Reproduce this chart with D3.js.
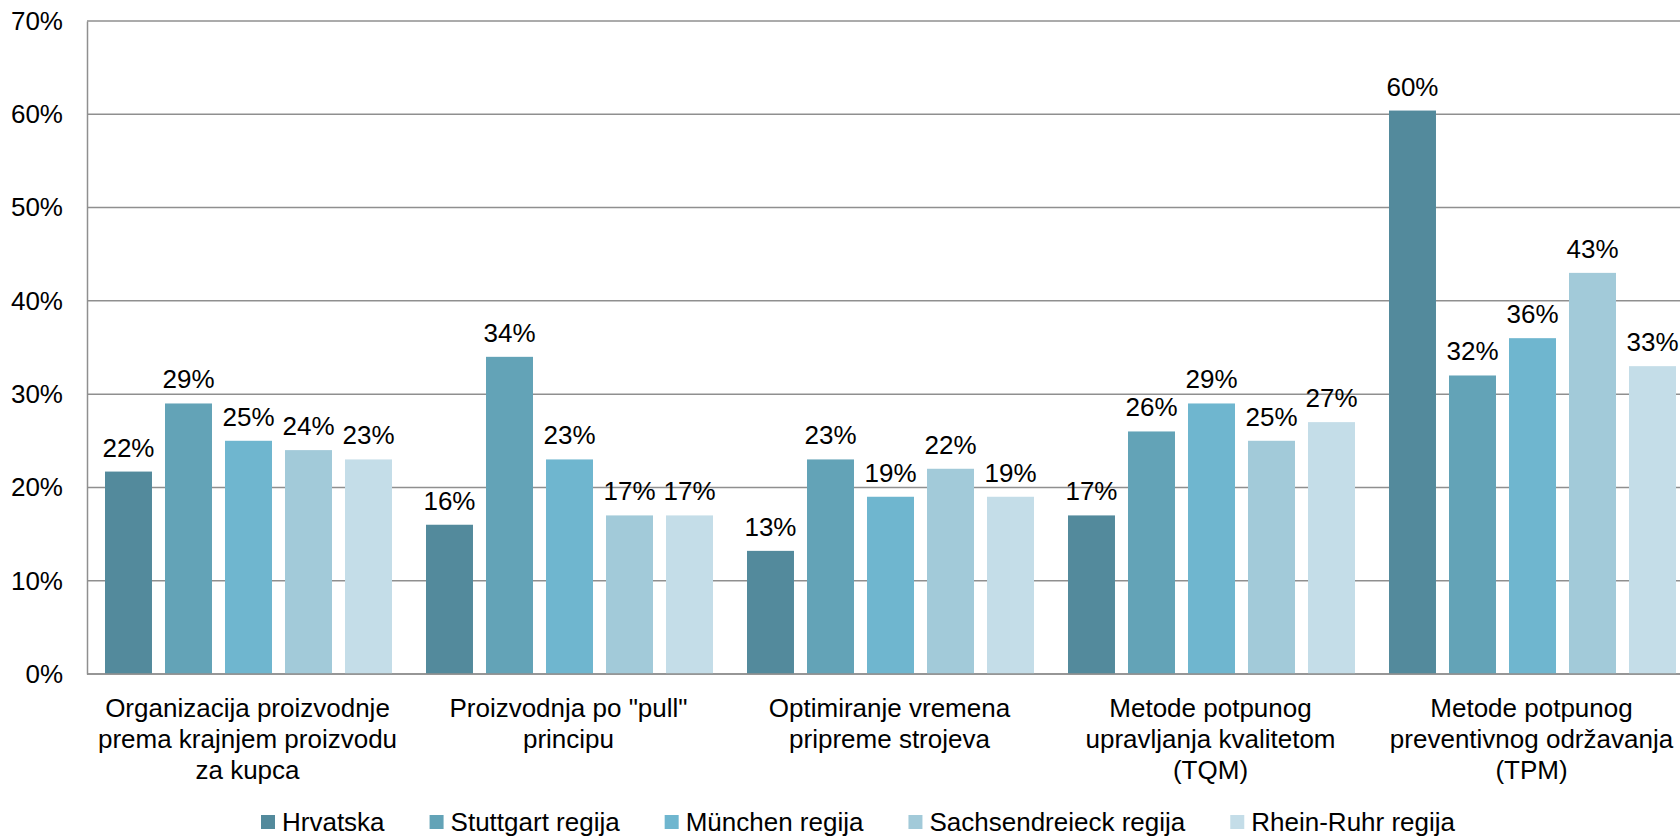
<!DOCTYPE html>
<html>
<head>
<meta charset="utf-8">
<script src="https://cdn.jsdelivr.net/npm/d3@7/dist/d3.min.js"></script>
<style>
  body { margin: 0; background: #fff; }
  text { font-family: "Liberation Sans", Arial, sans-serif; fill: #000; }
</style>
</head>
<body>
<script>
var categories = [
  "Organizacija proizvodnje\nprema krajnjem proizvodu\nza kupca",
  "Proizvodnja po \"pull\"\nprincipu",
  "Optimiranje vremena\npripreme strojeva",
  "Metode potpunog\nupravljanja kvalitetom\n(TQM)",
  "Metode potpunog\npreventivnog održavanja\n(TPM)"
];
var seriesNames = ["Hrvatska", "Stuttgart regija", "München regija", "Sachsendreieck regija", "Rhein-Ruhr regija"];
var hrvatska   = [0.217, 0.16, 0.132, 0.17, 0.604];
var stuttgart  = [0.29, 0.34, 0.23, 0.26, 0.32];
var munchen    = [0.25, 0.23, 0.19, 0.29, 0.36];
var sachsen    = [0.24, 0.17, 0.22, 0.25, 0.43];
var rheinRuhr  = [0.23, 0.17, 0.19, 0.27, 0.33];
var colors = ["#538a9c", "#63a3b7", "#6fb6cf", "#a2cad9", "#c4dde8"];
var yTicks = [0, 0.1, 0.2, 0.3, 0.4, 0.5, 0.6, 0.7];

var allSeries = [hrvatska, stuttgart, munchen, sachsen, rheinRuhr];
var width = 1680;
var height = 836;
var plotLeft = 87, plotTop = 21, plotBottom = 674, groupW = 321;

var svg = d3.select("body").append("svg")
  .attr("width", width)
  .attr("height", height);

var x0 = d3.scaleBand().domain(categories)
  .range([plotLeft, plotLeft + groupW * categories.length]);
var x1 = d3.scaleBand().domain(seriesNames)
  .range([18, groupW - 16]).paddingInner(0.217);
var y = d3.scaleLinear().domain([0, 0.7]).range([plotBottom, plotTop]);

// gridlines
svg.append("g").selectAll("line").data(yTicks).enter().append("line")
  .attr("x1", plotLeft).attr("x2", width)
  .attr("y1", function(d) { return y(d); })
  .attr("y2", function(d) { return y(d); })
  .attr("stroke", "#8f8f8f")
  .attr("stroke-width", 1.5);

// y axis
var yAxis = svg.append("g")
  .attr("transform", "translate(" + plotLeft + ",0)")
  .call(d3.axisLeft(y).tickValues(yTicks).tickFormat(d3.format(".0%")).tickSize(0).tickPadding(24));
yAxis.select(".domain").attr("stroke", "#8f8f8f").attr("stroke-width", 1.5);
yAxis.selectAll("text").attr("font-size", "26px")
  .attr("font-family", "Liberation Sans, Arial, sans-serif").attr("fill", "#000");

// bars
var groups = svg.selectAll("g.cat").data(categories).enter().append("g")
  .attr("class", "cat")
  .attr("transform", function(d) { return "translate(" + x0(d) + ",0)"; });

function rows(d, i) {
  return seriesNames.map(function(s, j) { return { s: s, j: j, v: allSeries[j][i] }; });
}

groups.selectAll("rect").data(rows).enter().append("rect")
  .attr("x", function(d) { return x1(d.s); })
  .attr("y", function(d) { return y(d.v); })
  .attr("width", x1.bandwidth())
  .attr("height", function(d) { return plotBottom - y(d.v); })
  .attr("fill", function(d) { return colors[d.j]; });

groups.selectAll("text.val").data(rows).enter().append("text")
  .attr("class", "val")
  .attr("x", function(d) { return x1(d.s) + x1.bandwidth() / 2; })
  .attr("y", function(d) { return y(d.v) - 15; })
  .attr("text-anchor", "middle")
  .attr("font-size", "26px")
  .text(function(d) { return d3.format(".0%")(d.v); });

// baseline over bars
svg.append("line")
  .attr("x1", plotLeft).attr("x2", width)
  .attr("y1", plotBottom).attr("y2", plotBottom)
  .attr("stroke", "#8f8f8f").attr("stroke-width", 1.5);

// category labels
svg.selectAll("text.catlabel").data(categories).enter().append("text")
  .attr("class", "catlabel")
  .attr("text-anchor", "middle")
  .attr("font-size", "26px")
  .each(function(d) {
    var t = d3.select(this);
    var cx = x0(d) + x0.bandwidth() / 2;
    d.split("\n").forEach(function(line, k) {
      t.append("tspan").attr("x", cx).attr("y", 717 + k * 31).text(line);
    });
  });

// legend
var legend = svg.append("g").attr("transform", "translate(261,0)");
var cursor = 0;
seriesNames.forEach(function(name, j) {
  legend.append("rect")
    .attr("x", cursor).attr("y", 815)
    .attr("width", 14).attr("height", 14)
    .attr("fill", colors[j]);
  var t = legend.append("text")
    .attr("x", cursor + 21).attr("y", 831)
    .attr("font-size", "26px")
    .text(name);
  cursor += 21 + t.node().getComputedTextLength() + 45;
});
</script>
</body>
</html>
